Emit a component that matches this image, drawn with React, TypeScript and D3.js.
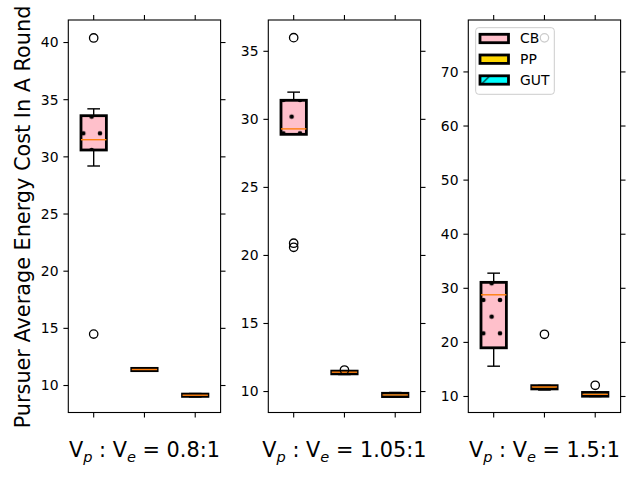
import React from 'react';
import * as d3 from 'd3';

// speed ratios, one panel per ratio
const ratios = ['0.8:1', '1.05:1', '1.5:1'];
const methods = ['CB', 'PP', 'GUT'];
const fills = ['pink', 'gold', 'cyan'];

// y range and ticks for each panel
const yDomains: [number, number][] = [[7.64, 41.97], [8.46, 37.3], [7.04, 79.6]];
const yTicks = [
  [10, 15, 20, 25, 30, 35, 40],
  [10, 15, 20, 25, 30, 35],
  [10, 20, 30, 40, 50, 60, 70],
];

type Stat = { whislo: number; q1: number; med: number; q3: number; whishi: number; fliers: number[] };

// box statistics per method, one entry per ratio
const cbStats: Stat[] = [
  { whislo: 29.2, q1: 30.6, med: 31.5, q3: 33.6, whishi: 34.2, fliers: [40.4, 14.5] },
  { whislo: 28.9, q1: 28.9, med: 29.3, q3: 31.4, whishi: 32.0, fliers: [36.0, 20.9, 20.6] },
  { whislo: 15.6, q1: 19.0, med: 28.8, q3: 31.1, whishi: 32.8, fliers: [] },
];
const ppStats: Stat[] = [
  { whislo: 11.25, q1: 11.3, med: 11.4, q3: 11.5, whishi: 11.55, fliers: [] },
  { whislo: 11.25, q1: 11.3, med: 11.42, q3: 11.5, whishi: 11.52, fliers: [11.58] },
  { whislo: 11.2, q1: 11.4, med: 11.76, q3: 12.0, whishi: 12.05, fliers: [21.5, 76.3] },
];
const gutStats: Stat[] = [
  { whislo: 9.0, q1: 9.05, med: 9.15, q3: 9.25, whishi: 9.3, fliers: [] },
  { whislo: 9.6, q1: 9.63, med: 9.75, q3: 9.87, whishi: 9.93, fliers: [] },
  { whislo: 10.0, q1: 10.05, med: 10.4, q3: 10.75, whishi: 10.8, fliers: [12.07] },
];

const W = 640;
const H = 480;
const panelLeft = [68.3, 268.3, 468.3];
const panelW = 152.3;
const top = 20;
const bottom = 412.5;
const font = 'DejaVu Sans, sans-serif';
const tickLen = 4.9;

const Panel: React.FC<{ idx: number }> = ({ idx }) => {
  const left = panelLeft[idx];
  const right = left + panelW;
  const x = d3.scaleLinear().domain([0.5, 3.5]).range([left, right]);
  const y = d3.scaleLinear().domain(yDomains[idx]).range([bottom, top]);
  const stats = [cbStats[idx], ppStats[idx], gutStats[idx]];
  const boxW = x(0.5) - x(0);
  const capW = boxW / 2;

  return (
    <g>
      {stats.map((s, i) => {
        const cx = x(i + 1);
        return (
          <g key={i}>
            <line x1={cx} x2={cx} y1={y(s.q3)} y2={y(s.whishi)} stroke="black" strokeWidth={1.4} />
            <line x1={cx} x2={cx} y1={y(s.q1)} y2={y(s.whislo)} stroke="black" strokeWidth={1.4} />
            <line x1={cx - capW / 2} x2={cx + capW / 2} y1={y(s.whishi)} y2={y(s.whishi)} stroke="black" strokeWidth={1.4} />
            <line x1={cx - capW / 2} x2={cx + capW / 2} y1={y(s.whislo)} y2={y(s.whislo)} stroke="black" strokeWidth={1.4} />
            <rect x={cx - boxW / 2} y={y(s.q3)} width={boxW} height={y(s.q1) - y(s.q3)} fill={fills[i]} />
            <rect x={cx - boxW / 2} y={y(s.q3)} width={boxW} height={y(s.q1) - y(s.q3)}
              fill={i === 0 ? 'url(#dots)' : 'none'} stroke="black" strokeWidth={2.8} />
            <line x1={cx - boxW / 2} x2={cx + boxW / 2} y1={y(s.med)} y2={y(s.med)} stroke="#ff7f0e" strokeWidth={1.4} />
            {s.fliers.map((f, k) => (
              <circle key={k} cx={cx} cy={y(f)} r={4.2} fill="none" stroke="black" strokeWidth={1.3} />
            ))}
          </g>
        );
      })}
      <rect x={left} y={top} width={panelW} height={bottom - top} fill="none" stroke="black" strokeWidth={1.1} />
      {yTicks[idx].map((t) => (
        <g key={t}>
          <line x1={left - tickLen} x2={left} y1={y(t)} y2={y(t)} stroke="black" strokeWidth={1.1} />
          <line x1={right} x2={right + tickLen} y1={y(t)} y2={y(t)} stroke="black" strokeWidth={1.1} />
          <text x={left - tickLen - 4.9} y={y(t)} dy="0.35em" textAnchor="end" fontSize={13.9} fontFamily={font}>{t}</text>
        </g>
      ))}
      {[1, 2, 3].map((v) => (
        <g key={v}>
          <line x1={x(v)} x2={x(v)} y1={bottom} y2={bottom + tickLen} stroke="black" strokeWidth={1.1} />
          <line x1={x(v)} x2={x(v)} y1={top - tickLen} y2={top} stroke="black" strokeWidth={1.1} />
        </g>
      ))}
      <text x={(left + right) / 2} y={457} textAnchor="middle" fontSize={20.8} fontFamily={font}>
        V<tspan fontSize={14.6} fontStyle="italic" dy={4.5}>p</tspan><tspan dy={-4.5}> : V</tspan><tspan fontSize={14.6} fontStyle="italic" dy={4.5}>e</tspan><tspan dy={-4.5}>{` = ${ratios[idx]}`}</tspan>
      </text>
    </g>
  );
};

const App: React.FC = () => {
  const legendRows = [38.5, 59.2, 80];
  return (
    <svg width={W} height={H} style={{ position: 'absolute', left: 0, top: 0, background: 'white' }}>
      <defs>
        <pattern id="dots" patternUnits="userSpaceOnUse" width={16.667} height={33.333}>
          <circle cx={0} cy={0} r={2.3} fill="black" />
          <circle cx={16.667} cy={0} r={2.3} fill="black" />
          <circle cx={0} cy={33.333} r={2.3} fill="black" />
          <circle cx={16.667} cy={33.333} r={2.3} fill="black" />
          <circle cx={8.333} cy={16.667} r={2.3} fill="black" />
        </pattern>
        <pattern id="slash" patternUnits="userSpaceOnUse" x={-1} width={33.333} height={33.333}>
          <line x1={0} y1={33.333} x2={33.333} y2={0} stroke="black" strokeWidth={1} />
        </pattern>
      </defs>
      <rect width={W} height={H} fill="white" />
      {ratios.map((_, i) => <Panel key={i} idx={i} />)}
      <text transform="translate(30,217) rotate(-90)" textAnchor="middle" fontSize={20.8} fontFamily={font}>
        Pursuer Average Energy Cost In A Round
      </text>
      <g>
        <rect x={475.7} y={27.7} width={78.6} height={66.6} rx={3} fill="white" fillOpacity={0.8} stroke="#cccccc" strokeWidth={1} />
        {methods.map((m, i) => (
          <g key={m}>
            <rect x={480} y={legendRows[i] - 4.2} width={28.5} height={8.4} fill={fills[i]} />
            {i === 2 && <rect x={480} y={legendRows[i] - 4.2} width={28.5} height={8.4} fill="url(#slash)" />}
            <rect x={480} y={legendRows[i] - 4.2} width={28.5} height={8.4} fill="none" stroke="black" strokeWidth={2.8} />
            <text x={520} y={legendRows[i]} dy="0.35em" fontSize={13.9} fontFamily={font}>{m}</text>
          </g>
        ))}
      </g>
    </svg>
  );
};

export default App;
